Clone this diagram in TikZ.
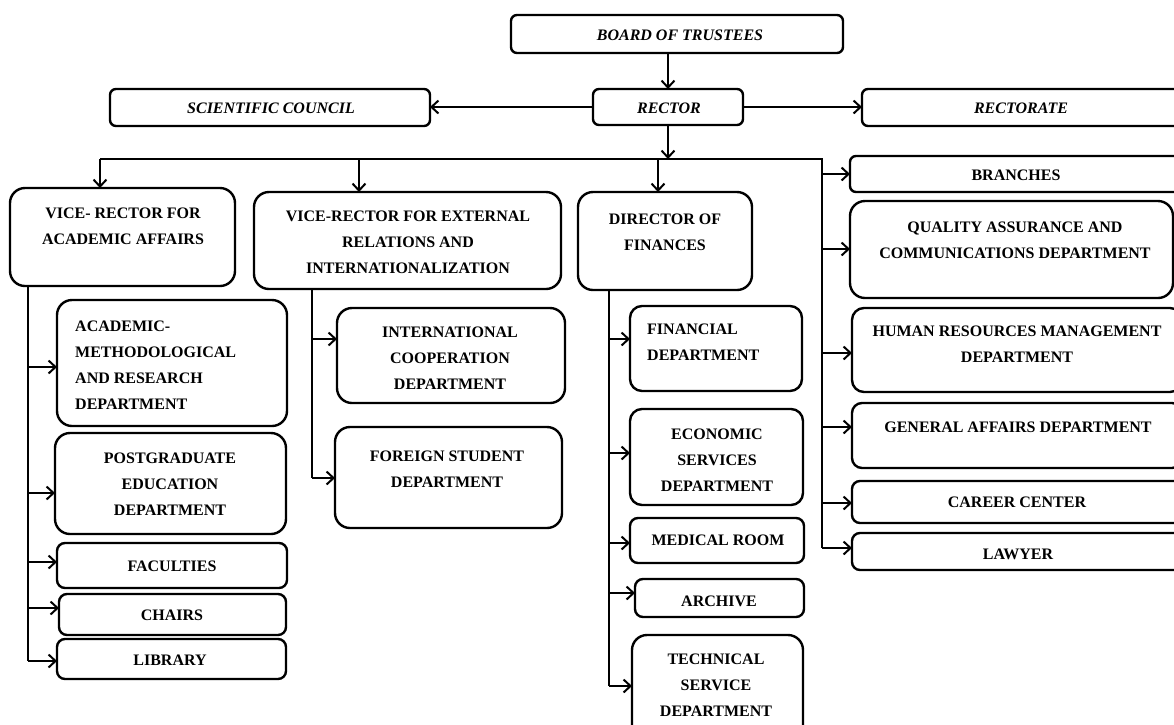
\documentclass[tikz,border=0pt]{standalone}
\usepackage{fontspec}
\setmainfont{Liberation Serif}
\usetikzlibrary{arrows.meta}
\newcommand{\obox}[6]{\node[box,rounded corners=#6pt,minimum width={(#4-#2)*1pt},minimum height={(#5-#3)*1pt}] (#1) at ({(#2+#4)/2},{(#3+#5)/2}) {};}
\begin{document}
\begin{tikzpicture}[x=1pt,y=-1pt,
  box/.style={draw,line width=2.4pt,rectangle,inner sep=0pt,outer sep=0pt},
  txt/.style={font=\bfseries\fontsize{16}{26}\selectfont,align=center,inner sep=0pt},
  itxt/.style={font=\bfseries\itshape\fontsize{16}{26}\selectfont,inner sep=0pt},
  ln/.style={line width=2pt},
  conn/.style={line width=2pt,-{Straight Barb[length=7pt,width=13pt]}}]
\useasboundingbox[fill=white] (0,0) rectangle (1174,724);
% boxes
\obox{board}{511}{15}{843}{53}{6}
\obox{sc}{110}{89}{430}{126}{6}
\obox{rector}{593}{89}{743}{125}{6}
\obox{rectorate}{862}{89}{1182}{126}{6}
\obox{branches}{850}{156}{1182}{192}{6}
\obox{vra}{10}{188}{235}{286}{15}
\obox{vre}{254}{192}{561}{289}{15}
\obox{dir}{578}{192}{752}{290}{15}
\obox{qa}{850}{201}{1173}{298}{15}
\obox{acm}{57}{300}{287}{426}{15}
\obox{ic}{337}{308}{565}{403}{15}
\obox{fin}{630}{306}{802}{391}{12}
\obox{hr}{852}{308}{1182}{392}{12}
\obox{ga}{852}{403}{1182}{468}{10}
\obox{econ}{630}{409}{803}{505}{12}
\obox{pg}{55}{433}{286}{534}{15}
\obox{fs}{335}{427}{562}{528}{15}
\obox{career}{852}{481}{1182}{523}{8}
\obox{lawyer}{852}{533}{1182}{570}{8}
\obox{med}{630}{518}{804}{563}{8}
\obox{fac}{57}{543}{287}{588}{8}
\obox{chairs}{59}{594}{286}{635}{8}
\obox{archive}{635}{579}{804}{617}{8}
\obox{library}{57}{639}{286}{679}{8}
\obox{tech}{632}{635}{803}{740}{15}
% texts
\node[itxt] (t-board) at (680,35) {BOARD OF TRUSTEES};
\node[itxt] (t-sc) at (271,108) {SCIENTIFIC COUNCIL};
\node[itxt] (t-rector) at (669,108) {RECTOR};
\node[itxt] (t-rectorate) at (1021,108) {RECTORATE};
\node[txt] (t-branches) at (1016,175) {BRANCHES};
\node[txt] (t-vra) at (123,226) {VICE- RECTOR FOR\\ACADEMIC AFFAIRS};
\node[txt] (t-vre) at (408,242) {VICE-RECTOR FOR EXTERNAL\\RELATIONS AND\\INTERNATIONALIZATION};
\node[txt] (t-dir) at (665,232) {DIRECTOR OF\\FINANCES};
\node[txt] (t-qa) at (1015,240) {QUALITY ASSURANCE AND\\COMMUNICATIONS DEPARTMENT};
\node[txt,align=left,anchor=west] (t-acm) at (75,365) {ACADEMIC-\\METHODOLOGICAL\\AND RESEARCH\\DEPARTMENT};
\node[txt] (t-ic) at (450,358) {INTERNATIONAL\\COOPERATION\\DEPARTMENT};
\node[txt,align=left,anchor=west] (t-fin) at (647,342) {FINANCIAL\\DEPARTMENT};
\node[txt] (t-hr) at (1017,344) {HUMAN RESOURCES MANAGEMENT\\DEPARTMENT};
\node[txt] (t-ga) at (1018,427) {GENERAL AFFAIRS DEPARTMENT};
\node[txt] (t-econ) at (717,460) {ECONOMIC\\SERVICES\\DEPARTMENT};
\node[txt] (t-pg) at (170,484) {POSTGRADUATE\\EDUCATION\\DEPARTMENT};
\node[txt] (t-fs) at (447,469) {FOREIGN STUDENT\\DEPARTMENT};
\node[txt] (t-career) at (1017,502) {CAREER CENTER};
\node[txt] (t-lawyer) at (1018,554) {LAWYER};
\node[txt] (t-med) at (718,540) {MEDICAL ROOM};
\node[txt] (t-fac) at (172,566) {FACULTIES};
\node[txt] (t-chairs) at (172,615) {CHAIRS};
\node[txt] (t-archive) at (719,601) {ARCHIVE};
\node[txt] (t-library) at (170,660) {LIBRARY};
\node[txt] (t-tech) at (716,685) {TECHNICAL\\SERVICE\\DEPARTMENT};
% top connectors
\draw[conn] (rector.north |- board.south) -- (rector.north);
\draw[conn] (rector.west) -- (sc.east |- rector.west);
\draw[conn] (rector.east) -- (rectorate.west |- rector.east);
\coordinate (bj) at (668,159);
\draw[conn] (rector.south) -- (bj);
\coordinate (bl) at (100,159);
\coordinate (br) at (822,159);
\coordinate (rb) at (822,548);
\draw[ln] (bl) -- (br) -- (rb);
\draw[conn] (bl) -- (bl |- vra.north);
\coordinate (b2) at (359,159);
\draw[conn] (b2) -- (b2 |- vre.north);
\coordinate (b3) at (658,159);
\draw[conn] (b3) -- (b3 |- dir.north);
% right column
\foreach \n/\y in {branches/174,qa/249,hr/353,ga/427,career/503,lawyer/548}{
  \coordinate (p-\n) at (822,\y);
  \draw[conn] (p-\n) -- (p-\n -| \n.west);
}
% left column
\coordinate (lt) at (28,286);
\coordinate (lb) at (28,661);
\draw[ln] (lt) -- (lb);
\foreach \n/\y in {acm/367,pg/493,fac/562,chairs/608,library/661}{
  \coordinate (p-\n) at (28,\y);
  \draw[conn] (p-\n) -- (p-\n -| \n.west);
}
% external relations column
\coordinate (mt) at (312,289);
\coordinate (mb) at (312,478);
\draw[ln] (mt) -- (mb);
\foreach \n/\y in {ic/339,fs/478}{
  \coordinate (p-\n) at (312,\y);
  \draw[conn] (p-\n) -- (p-\n -| \n.west);
}
% finance column
\coordinate (ft) at (609,290);
\coordinate (fb) at (609,686);
\draw[ln] (ft) -- (fb);
\foreach \n/\y in {fin/339,econ/453,med/543,archive/593,tech/686}{
  \coordinate (p-\n) at (609,\y);
  \draw[conn] (p-\n) -- (p-\n -| \n.west);
}
\end{tikzpicture}
\end{document}
